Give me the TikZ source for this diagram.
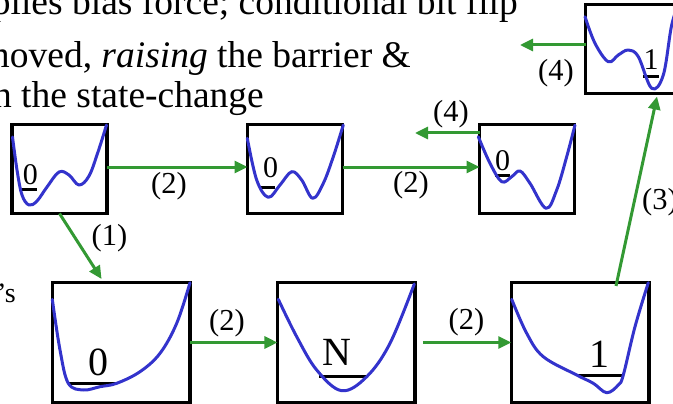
\documentclass[tikz,border=0pt]{standalone}
\usepackage{fontspec}
\setmainfont{Liberation Serif}
\usetikzlibrary{arrows.meta,calc}
\definecolor{grn}{RGB}{51,153,51}
\definecolor{blu}{RGB}{51,51,204}
\begin{document}
\begin{tikzpicture}[x=1pt,y=-1pt,
  box/.style={draw=black, line width=3.5pt, rectangle, inner sep=0pt, outer sep=0pt},
  sbox/.style={box, minimum width=95pt, minimum height=89pt},
  bbox/.style={box, minimum width=137.5pt, minimum height=120pt},
  pot/.style={draw=blu, line width=3pt, line join=round, line cap=round},
  lvl/.style={draw=black, line width=3pt},
  flow/.style={draw=grn, line width=3pt, -{Triangle[length=13pt,width=12pt]}},
  lab/.style={font=\fontsize{30.5}{30.5}\selectfont, inner sep=0pt},
  dig/.style={font=\fontsize{30}{30}\selectfont, inner sep=0pt, anchor=base},
  bdig/.style={font=\fontsize{40}{40}\selectfont, inner sep=0pt, anchor=base},
  txt/.style={font=\fontsize{37.5}{37.5}\selectfont, inner sep=0pt, anchor=base east},
]
\useasboundingbox (0,0) rectangle (673,404);
\clip (0,0) rectangle (673,404);

% text
\node[txt] (t1) at (518,15) {plies bias force; conditional bit flip};
\node[txt] (t2) at (411,68) {moved, \textit{raising} the barrier \&};
\node[txt] (t3) at (264,108) {n the state-change};
\node[font=\fontsize{28}{28}\selectfont, inner sep=0pt, anchor=base east] (t4) at (16,302) {’s};

% boxes
\node[sbox] (A) at (59.5,169) {};
\node[sbox] (B) at (295,169) {};
\node[sbox] (C) at (527,169) {};
\node[sbox] (D) at (633,49) {};
\node[bbox] (E) at (121.3,342.5) {};
\node[bbox] (F) at (346.2,342.5) {};
\node[bbox] (G) at (580,342.5) {};

% level bars and digits
\draw[lvl] (22,189) -- (37,189);
\node[dig] (dA) at (30.5,185) {0};
\draw[lvl] (260,187) -- (275,187);
\node[dig] (dB) at (270.5,178) {0};
\draw[lvl] (495,175) -- (510,175);
\node[dig] (dC) at (502.5,170) {0};
\draw[lvl] (643,77) -- (659,77);
\node[dig] (dD) at (651,70) {1};
\draw[lvl] (68,383) -- (117,383);
\node[bdig] (dE) at (98,375) {0};
\draw[lvl] (319,376) -- (366,376);
\node[bdig] (dF) at (337,365) {N};
\draw[lvl] (577,375) -- (623,375);
\node[bdig] (dG) at (599.5,367) {1};

% potentials
\draw[pot] plot[smooth, tension=0.6] coordinates {(12.5,137) (17,170) (22,195) (29,205) (37,201) (47,187) (59,172) (69,175) (79,185) (89,176) (98,152) (106.5,125)};
\draw[pot] plot[smooth, tension=0.6] coordinates {(247.3,138.3) (256.7,180) (268.3,197.3) (280,185) (291.7,171.7) (301.7,180) (312.7,198.3) (323.3,183.3) (333.3,156.7) (343.3,125)};
\draw[pot] plot[smooth, tension=0.6] coordinates {(478.3,136.7) (490,163.3) (501.7,181.7) (511.7,176.7) (520,171) (530,183.3) (546,208.3) (556.7,190) (566.7,156.7) (575,125)};
\draw[pot] plot[smooth, tension=0.6] coordinates {(585,16.7) (595,43.3) (608.3,61.7) (618.3,55) (628.3,50) (638.3,56.7) (651.7,88.3) (663.3,75) (671.7,25) (680,0)};
\draw[pot] plot[smooth, tension=0.6] coordinates {(52.3,299.3) (60,350) (68.3,383.3) (83.3,390) (100,386.7) (116.7,383.3) (140,371.7) (160,353.3) (176.7,323.3) (190,282.7)};
\draw[pot] plot[smooth, tension=0.6] coordinates {(278.3,299.3) (296.7,336.7) (316.7,370) (341.7,390.7) (366.7,376.7) (390,343.3) (414.3,284)};
\draw[pot] plot[smooth, tension=0.6] coordinates {(511.7,299.3) (526.7,333.3) (543.3,356.7) (576.7,375) (593.3,383.3) (606.7,392.7) (618.3,385) (623.3,375) (635,326.7) (648.3,282.7)};

% connectors
\coordinate (c4) at (415,133);
\coordinate (d4) at (520,45);
\coordinate (e1) at ($(E.north west)+(49,-3.5)$);
\coordinate (g3) at ($(G.north)+(36,3.5)$);
\coordinate (d3) at ($(D.south)+(24,3)$);
\draw[flow] ([yshift=2pt]A.east) -- ([yshift=2pt]B.west);
\draw[flow] ([yshift=2pt]B.east) -- ([yshift=2pt]C.west);
\draw[flow] (C.west |- c4) -- (c4);
\draw[flow] (D.west |- d4) -- (d4);
\draw[flow] (A.south) -- (e1);
\draw[flow] (E.east) -- (F.west);
\draw[flow] ($(F.east)+(8,0)$) -- (G.west);
\draw[flow] (g3) -- (d3);

% labels
\node[lab] (l1) at (169,186) {(2)};
\node[lab] (l2) at (411,185) {(2)};
\node[lab] (l3) at (451,114) {(4)};
\node[lab] (l4) at (556,73.5) {(4)};
\node[lab] (l5) at (109.5,238.5) {(1)};
\node[lab] (l6) at (227,323.5) {(2)};
\node[lab] (l7) at (466.5,322.5) {(2)};
\node[lab] (l8) at (660,202.5) {(3)};
\end{tikzpicture}
\end{document}
